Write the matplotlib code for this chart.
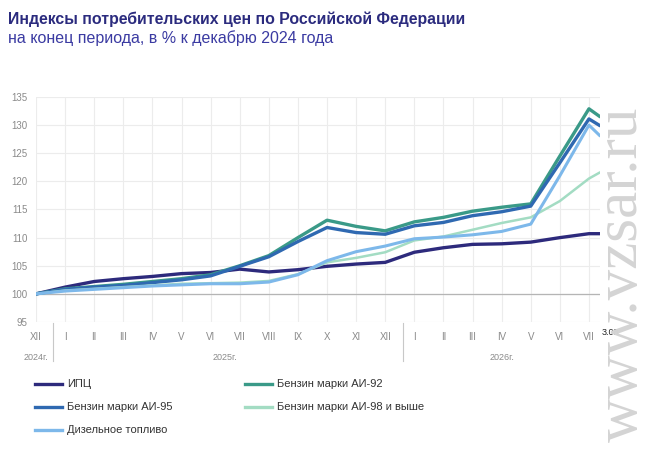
import numpy as np
import matplotlib.pyplot as plt
from matplotlib.lines import Line2D

plt.rcParams["font.family"] = ["Liberation Sans", "DejaVu Sans"]

# months from Dec 2024 to Jul 2026, last point = 3 Aug 2026
month_labels = ["XII", "I", "II", "III", "IV", "V", "VI", "VII", "VIII", "IX", "X", "XI", "XII",
                "I", "II", "III", "IV", "V", "VI", "VII"]
x_pos = list(range(20)) + [19.38]

cpi =    [100, 101.2, 102.2, 102.7, 103.1, 103.6, 103.8, 104.4, 103.9, 104.3, 104.9,
          105.3, 105.6, 107.4, 108.2, 108.8, 108.9, 109.2, 110.0, 110.7, 110.7]
ai92 =   [100, 100.9, 101.3, 101.7, 102.2, 102.7, 103.4, 105.0, 106.8, 110.0, 113.1,
          112.0, 111.2, 112.8, 113.6, 114.7, 115.4, 116.0, 124.5, 132.9, 131.5]
ai95 =   [100, 100.8, 101.2, 101.5, 102.0, 102.5, 103.2, 104.9, 106.6, 109.3, 111.8,
          110.9, 110.6, 112.1, 112.7, 113.9, 114.6, 115.6, 123.3, 131.1, 129.9]
ai98 =   [100, 100.6, 100.9, 101.2, 101.5, 101.8, 101.9, 102.0, 102.3, 103.5, 105.6,
          106.4, 107.4, 109.5, 110.2, 111.4, 112.6, 113.6, 116.5, 120.5, 121.6]
diesel = [100, 100.5, 100.8, 101.1, 101.4, 101.6, 101.8, 101.8, 102.1, 103.4, 105.9,
          107.5, 108.5, 109.8, 110.1, 110.5, 111.1, 112.4, 121.0, 130.0, 128.1]

names = ["ИПЦ", "Бензин марки АИ-92", "Бензин марки АИ-95",
         "Бензин марки АИ-98 и выше", "Дизельное топливо"]
colors = ["#2d2a7c", "#3a9a88", "#2f69b1", "#a3dcc3", "#7db8ea"]
widths = [2.4, 2.4, 2.4, 1.8, 2.2]
series = [cpi, ai92, ai95, ai98, diesel]

W, H = 653, 450
fig = plt.figure(figsize=(W / 100, H / 100), dpi=100)
ax = fig.add_axes([36 / W, 1 - 322 / H, (600 - 36) / W, (322 - 97) / H])

# draw order: lighter lines under darker ones
for i in [3, 4, 1, 2, 0]:
    ax.plot(x_pos, series[i], color=colors[i], lw=widths[i], solid_capstyle="round", zorder=3 + i)

ax.set_xlim(0, 19.38)
ax.set_ylim(95, 135)
ax.set_yticks(range(95, 136, 5))
ax.set_xticks(range(20))
ax.set_xticklabels(month_labels)
ax.tick_params(axis="both", length=0, labelsize=7, labelcolor="#8a8a8a")
ax.tick_params(axis="x", pad=7)
ax.tick_params(axis="y", pad=6)
ax.grid(True, color="#ececec", lw=0.8)
ax.axhline(100, color="#b5b5b5", lw=0.9, zorder=2)
for s in ax.spines.values():
    s.set_visible(False)

# last date label
ax.text(19.38 + 0.07, 94.0, "3.08", fontsize=6.5, color="#222222", ha="left", va="top")

# year labels and separators
def fx(xv):
    return (36 + xv * (600 - 36) / 19.38) / W

for xv, lab in [(0, "2024г."), (6.5, "2025г."), (16, "2026г.")]:
    fig.text(fx(xv), 1 - 357 / H, lab, fontsize=6.5, color="#8a8a8a", ha="center", va="center")
for xv in [0.58, 12.6]:
    fig.add_artist(Line2D([fx(xv), fx(xv)], [1 - 323 / H, 1 - 361 / H], color="#c8c8c8", lw=0.8))

# titles
fig.text(8 / W, 1 - 19 / H, "Индексы потребительских цен по Российской Федерации",
         fontsize=11.4, fontweight="bold", color="#2b2b7e", ha="left", va="center")
fig.text(8 / W, 1 - 38 / H, "на конец периода, в % к декабрю 2024 года",
         fontsize=11.5, color="#3b3ba2", ha="left", va="center")

# legend
leg_pos = [(35, 384), (245, 384), (35, 407), (245, 407), (35, 430)]
for (lx, ly), name, c in zip(leg_pos, names, colors):
    fig.add_artist(Line2D([lx / W, (lx + 27) / W], [1 - ly / H, 1 - ly / H], color=c, lw=2.4))
    fig.text((lx + 32) / W, 1 - ly / H, name, fontsize=8, color="#333333", ha="left", va="center")

# watermark
fig.text(622 / W, 1 - 274 / H, "www.vzsar.ru", rotation=90, fontsize=44,
         family="Liberation Serif", color="#d4d4d4", ha="center", va="center", zorder=20)

fig.savefig("out.png", dpi=100)
